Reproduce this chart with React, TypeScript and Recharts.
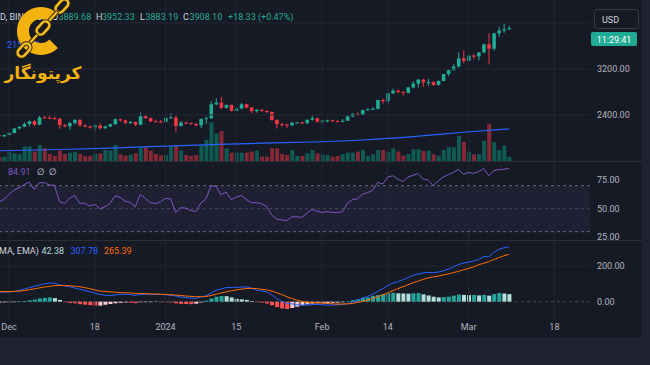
import React from 'react';
import { ComposedChart, Bar, Line, XAxis, YAxis, ReferenceLine, ReferenceArea } from 'recharts';

// days counted from 2023-12-01 (0 = Dec 1)
const dayNumber = [-2,-1,0,1,2,3,4,5,6,7,8,9,10,11,12,13,14,15,16,17,18,19,20,21,22,23,24,25,26,27,28,29,30,31,32,33,34,35,36,37,38,39,40,41,42,43,44,45,46,47,48,49,50,51,52,53,54,55,56,57,58,59,60,61,62,63,64,65,66,67,68,69,70,71,72,73,74,75,76,77,78,79,80,81,82,83,84,85,86,87,88,89,90,91,92,93,94,95,96,97,98,99];

const openPrice = [2050,2028,2052,2087,2166,2194,2243,2293,2232,2358,2350,2344,
  2336,2224,2203,2260,2315,2220,2197,2190,2218,2170,
  2200,2239,2326,2305,2262,2278,2230,2379,2345,2290,
  2285,2282,2352,2358,2210,2268,2262,2245,2222,2330,
  2345,2585,2617,2524,2576,2472,2511,2587,2530,2466,
  2490,2470,2454,2314,2242,2236,2218,2268,2272,2258,
  2317,2343,2283,2304,2308,2296,2290,2300,2375,2420,
  2405,2487,2500,2508,2660,2640,2777,2824,2802,2785,
  2880,2945,3016,2966,2971,2922,2992,3112,3179,3243,
  3385,3341,3434,3419,3489,3629,3554,3820,3868,3889.68];

const closePrice = [2028,2052,2087,2166,2194,2243,2293,2232,2358,2350,2344,2336,
  2224,2203,2260,2315,2220,2197,2190,2218,2170,2200,
  2239,2326,2305,2262,2278,2230,2379,2345,2290,2285,
  2282,2352,2358,2210,2268,2262,2245,2222,2330,2345,
  2585,2617,2524,2576,2472,2511,2587,2530,2466,2490,
  2470,2454,2314,2242,2236,2218,2268,2272,2258,2317,
  2343,2283,2304,2308,2296,2290,2300,2375,2420,2405,
  2487,2500,2508,2660,2640,2777,2824,2802,2785,2880,
  2945,3016,2966,2971,2922,2992,3112,3179,3243,3385,
  3341,3434,3419,3489,3629,3554,3820,3868,3889.68,3908.1];

const highPrice = [2070,2062,2104,2170,2204,2275,2307,2310,2383,2390,2405,2372,
  2350,2246,2282,2332,2330,2238,2215,2230,2255,2215,
  2250,2340,2335,2320,2295,2285,2445,2400,2355,2320,
  2312,2355,2430,2385,2295,2285,2270,2260,2345,2370,
  2640,2690,2717,2580,2580,2545,2610,2595,2540,2505,
  2495,2480,2460,2330,2265,2245,2275,2280,2285,2320,
  2390,2350,2315,2320,2318,2310,2330,2390,2435,2440,
  2495,2515,2535,2665,2685,2780,2860,2840,2810,2890,
  2985,3030,3030,3030,2990,3005,3115,3195,3285,3490,
  3525,3450,3460,3495,3640,3822,3830,3935,3995,3952.33];

const lowPrice = [2015,2020,2046,2080,2146,2188,2201,2208,2222,2340,2330,2320,
  2160,2185,2145,2235,2198,2190,2166,2125,2150,2155,
  2190,2232,2280,2240,2245,2210,2222,2330,2275,2270,
  2265,2265,2345,2100,2200,2230,2230,2205,2170,2245,
  2330,2570,2500,2510,2460,2460,2505,2515,2430,2440,
  2455,2430,2300,2165,2195,2170,2205,2250,2240,2240,
  2300,2270,2245,2275,2280,2275,2275,2295,2360,2390,
  2400,2470,2490,2495,2600,2600,2760,2770,2740,2775,
  2865,2880,2890,2905,2905,2910,2985,3075,3170,3225,
  3300,3330,3370,3350,3470,3280,3520,3760,3830,3883.19];

// volume, thousands
const volume = [40,44,94,77,70,144,144,94,160,127,70,50,
  104,70,84,94,70,50,50,70,77,110,
  104,160,67,54,64,77,137,137,104,70,
  57,60,144,150,104,60,50,60,160,210,
  387,277,300,127,84,84,84,84,94,104,
  44,44,127,127,70,60,110,50,50,77,
  110,77,65,60,43,50,67,84,84,94,
  110,50,67,110,110,94,127,94,54,70,
  118,118,101,104,67,54,110,138,138,251,
  191,94,67,70,201,371,188,110,154,41];

// moving average (price) read at a few days
const maDays = [-2,10,20,31,40,50,60,70,80,90,99];
const maValues = [1778,1800,1825,1860,1885,1910,1930,1965,2025,2100,2157];

const rsi = [56,58,62.5,66.2,68.2,71,73.2,66.8,72.6,72.6,70.6,70.5,
  56,54.6,59,61.5,54.8,54.6,52.4,53.8,50,51.8,
  54.6,61,59.9,56.5,55.5,51.7,62.5,59,55.2,54.5,
  56,59,58.5,46.8,50.9,50.5,48.5,47.5,55,58.5,
  69.8,69.5,62,64.5,57.8,60,61.5,58,55.2,55.3,
  54.4,52,44.5,41,40.3,39.6,43,43,42.5,46,
  49.4,47.8,46.8,47.4,46.8,46.8,47.2,54.6,58,58.5,
  62.5,64,65.8,72.9,71.5,77.5,78.7,75.6,73.5,77.5,
  79,80.6,75.8,75,70,74.2,77.5,79.7,81.5,84.2,
  80,81.6,80.7,82.2,85,78.7,83,84,84.3,84.91];

const macdLine = [53,54,55,57,62,70,79,86,93,100,104,105,
  95,89,84,77,69,63,56,48,41,37,
  34,38,41,41,41,35,40,42,41,40,
  41,39,36,32,27,23,20,19,26,33,
  48,64,72,79,80,80,82,83,75,66,
  60,56,38,18,3,-8,-12,-17,-19,-19,
  -17,-15,-17,-19,-19,-18,-15,-12,-3,9,
  20,29,42,57,73,90,104,111,123,135,
  148,155,161,164,163,166,173,182,195,208,
  216,221,228,236,252,252,277,293,302,307.78];

const signalLine = [57,57,57,58,59,62,67,72,77,82,86,90,
  91,90,89,87,84,79,73,66,60,57,
  55,53,51,50,49,47,46,45,44,43,
  42,41,39,37,35,32,30,28,28,29,
  34,42,49,55,61,66,70,74,75,73,
  70,66,60,50,40,28,18,9,2,-2,
  -5,-6,-8,-10,-12,-13,-13,-12,-10,-4,
  2,9,18,27,38,50,62,73,84,95,
  106,115,125,133,139,144,150,156,163,170,
  179,187,195,207,215,224,236,247,257,265.39];

const macdHist = [-5,-4,-3,-2,1,4,8,12,18,21,24,20,
  10,-2,-7,-9,-14,-17,-19,-22,-22,-17,
  -13,-9,-6,-4,-6,-8,-3,-2,-1,1,
  -1,-2,-4,-9,-12,-13,-14,-11,-4,6,
  18,28,32,31,24,16,13,10,4,-2,
  -5,-10,-20,-30,-38,-41,-35,-28,-20,-15,
  -11,-9,-8,-8,-6,-5,-3,1,9,13,
  22,24,33,37,43,47,50,47,46,45,
  47,48,41,35,28,24,26,28,34,40,
  38,37,37.5,35,38,34,43,49,46,42.38];

const tickDays = [0,17,31,45,62,75,91,108];
const tickLabels = ['Dec','18','2024','15','Feb','14','Mar','18'];
const priceTicks = [2400,3200];
const priceGrid = [2400,3200,4000];
const rsiTicks = [25,50,75];
const macdTicks = [0,200];
const changeText = '+18.33 (+0.47%)';
const countdownText = '11:29:41';

const rows = dayNumber.map((d, i) => {
  const m = maDays.indexOf(d);
  return {
    i, d,
    open: openPrice[i], high: highPrice[i], low: lowPrice[i], close: closePrice[i],
    volume: volume[i],
    ma: m >= 0 ? maValues[m] : null,
    rsi: rsi[i], macd: macdLine[i], signal: signalLine[i], hist: macdHist[i],
  };
});

const BG = '#161a25';
const FRAME = '#1f2230';
const GRID = '#222633';
const SEP = '#2a2e39';
const AXIS_TEXT = '#b2b5be';
const LEGEND = '#d1d4dc';
const UP = '#22ab94';
const DOWN = '#f23645';
const X_DOMAIN: [number, number] = [-1.782, 115.05];
const CHART_W = 642;
const AXIS_W = 52;
const FONT = 'Roboto, "DejaVu Sans", sans-serif';
const M = { top: 0, right: 0, bottom: 0, left: 0 };

const CandleShape = (p: any) => {
  const r = p.payload;
  let { x, y, width, height } = p;
  if (x == null || y == null) return null;
  if (height < 0) { y += height; height = -height; }
  const range = r.high - r.low;
  const k = range > 0 ? height / range : 0;
  const yO = y + (r.high - r.open) * k;
  const yC = y + (r.high - r.close) * k;
  const top = Math.min(yO, yC);
  const h = Math.max(1, Math.abs(yO - yC));
  const c = r.close >= r.open ? UP : DOWN;
  const cx = x + width / 2;
  return (
    <g>
      <line x1={cx} x2={cx} y1={y} y2={y + height} stroke={c} strokeWidth={1} />
      <rect x={x} y={top} width={width} height={h} fill={c} />
    </g>
  );
};

const VolumeShape = (p: any) => {
  let { x, y, width, height } = p;
  if (x == null || y == null) return null;
  if (height < 0) { y += height; height = -height; }
  const r = p.payload;
  const c = r.close >= r.open ? 'rgba(8,153,129,0.5)' : 'rgba(242,54,69,0.5)';
  return <rect x={x} y={y} width={width} height={height} fill={c} />;
};

const HistShape = (p: any) => {
  let { x, y, width, height } = p;
  if (x == null || y == null) return null;
  if (height < 0) { y += height; height = -height; }
  const i = p.payload.i;
  const v = macdHist[i];
  const prev = i > 0 ? macdHist[i - 1] : v;
  let c;
  if (v >= 0) c = v >= prev ? '#26a69a' : '#b2dfdb';
  else c = v < prev ? '#ff5252' : '#ffcdd2';
  return <rect x={x} y={y} width={width} height={Math.max(height, 0.5)} fill={c} />;
};

const ValueTick = (p: any) => (
  <text x={p.x} y={p.y} fill={AXIS_TEXT} fontSize={9} textAnchor="start" dominantBaseline="central" fontFamily={FONT}>
    {Number(p.payload.value).toFixed(2)}
  </text>
);

const TimeTick = (p: any) => {
  const idx = tickDays.indexOf(p.payload.value);
  return (
    <text x={p.x} y={p.y + 7} fill={AXIS_TEXT} fontSize={9} textAnchor="middle" dominantBaseline="central" fontFamily={FONT}>
      {tickLabels[idx]}
    </text>
  );
};

const vGrid = (xId?: string, yId?: string) =>
  tickDays.map((d) => (
    <ReferenceLine key={'vg' + d} x={d} stroke={GRID} strokeWidth={1} {...(xId ? { xAxisId: xId } : {})} {...(yId ? { yAxisId: yId } : {})} />
  ));

const yAxisProps = {
  orientation: 'right' as const,
  width: AXIS_W,
  axisLine: false,
  tickLine: false,
  tickSize: 0,
  tickMargin: 7,
  tick: ValueTick,
  allowDataOverflow: true,
  interval: 0 as const,
};

const linkCenters = [[62, 6], [53, 16.5], [43, 28], [33, 39.5], [24, 50]];

export default function App() {
  const last = rows.length - 1;
  return (
    <div style={{ position: 'absolute', left: 0, top: 0, width: 650, height: 365, background: FRAME, overflow: 'hidden', fontFamily: FONT }}>
      <div style={{ position: 'absolute', left: 0, top: 0, width: CHART_W, height: 337, background: BG }} />
      <svg width={650} height={365} style={{ position: 'absolute', left: 0, top: 0 }}>
        <line x1={0} x2={CHART_W} y1={161.5} y2={161.5} stroke={SEP} />
        <line x1={0} x2={CHART_W} y1={240.5} y2={240.5} stroke={SEP} />
      </svg>

      {/* main pane */}
      <div style={{ position: 'absolute', left: 0, top: 0 }}>
        <ComposedChart width={CHART_W} height={161} data={rows} margin={M}>
          <XAxis xAxisId="p" dataKey="d" type="number" domain={X_DOMAIN} allowDataOverflow hide />
          <XAxis xAxisId="v" dataKey="d" type="number" domain={X_DOMAIN} allowDataOverflow hide />
          <YAxis yAxisId="p" {...yAxisProps} domain={[1600, 4400]} ticks={priceTicks} />
          <YAxis yAxisId="v" hide domain={[0, 1610]} allowDataOverflow />
          {vGrid('p', 'p')}
          {priceGrid.map((v) => (
            <ReferenceLine key={'hg' + v} xAxisId="p" yAxisId="p" y={v} stroke={GRID} />
          ))}
          <Bar xAxisId="v" yAxisId="v" dataKey="volume" barSize={4} shape={VolumeShape} isAnimationActive={false} />
          <Line xAxisId="p" yAxisId="p" dataKey="ma" type="monotone" stroke="#2962ff" strokeWidth={1.2} dot={false} connectNulls isAnimationActive={false} />
          <Bar xAxisId="p" yAxisId="p" dataKey={(r: any) => [r.low, r.high]} barSize={3.6} shape={CandleShape} isAnimationActive={false} />
        </ComposedChart>
      </div>

      {/* RSI pane */}
      <div style={{ position: 'absolute', left: 0, top: 162 }}>
        <ComposedChart width={CHART_W} height={78} data={rows} margin={M}>
          <XAxis dataKey="d" type="number" domain={X_DOMAIN} allowDataOverflow hide />
          <YAxis {...yAxisProps} domain={[22.8, 90.6]} ticks={rsiTicks} />
          {vGrid()}
          <ReferenceArea y1={30} y2={70} fill="#7e57c2" fillOpacity={0.1} stroke="none" />
          <ReferenceLine y={70} stroke="#787b86" strokeDasharray="3 3" strokeOpacity={0.8} />
          <ReferenceLine y={50} stroke="#787b86" strokeDasharray="3 3" strokeOpacity={0.45} />
          <ReferenceLine y={30} stroke="#787b86" strokeDasharray="3 3" strokeOpacity={0.8} />
          <Line dataKey="rsi" type="linear" stroke="#7e57c2" strokeWidth={1} dot={false} isAnimationActive={false} />
        </ComposedChart>
      </div>

      {/* MACD pane + time axis */}
      <div style={{ position: 'absolute', left: 0, top: 241 }}>
        <ComposedChart width={CHART_W} height={96} data={rows} margin={M}>
          <XAxis dataKey="d" type="number" domain={X_DOMAIN} allowDataOverflow ticks={tickDays} interval={0}
            height={17} axisLine={false} tickLine={false} tickSize={0} tickMargin={0} tick={TimeTick} />
          <YAxis {...yAxisProps} domain={[-102.5, 340]} ticks={macdTicks} />
          {vGrid()}
          <ReferenceLine y={200} stroke={GRID} />
          <ReferenceLine y={0} stroke="#787b86" strokeDasharray="3 3" strokeOpacity={0.5} />
          <Bar dataKey="hist" barSize={4} shape={HistShape} isAnimationActive={false} />
          <Line dataKey="macd" type="linear" stroke="#2962ff" strokeWidth={1} dot={false} isAnimationActive={false} />
          <Line dataKey="signal" type="linear" stroke="#ff6d00" strokeWidth={1} dot={false} isAnimationActive={false} />
        </ComposedChart>
      </div>

      {/* overlay: legends, price scale labels, logo */}
      <svg width={650} height={365} style={{ position: 'absolute', left: 0, top: 0 }} fontFamily={FONT}>
        <text y={17} fontSize={9} dominantBaseline="central">
          <tspan x={0} fill={LEGEND}>D, BINANCE</tspan>
          <tspan x={52} fill={LEGEND}>O</tspan>
          <tspan x={58.5} fill={UP}>{openPrice[last].toFixed(2)}</tspan>
          <tspan x={96} fill={LEGEND}>H</tspan>
          <tspan x={102} fill={UP}>{highPrice[last].toFixed(2)}</tspan>
          <tspan x={140} fill={LEGEND}>L</tspan>
          <tspan x={145.5} fill={UP}>{lowPrice[last].toFixed(2)}</tspan>
          <tspan x={183} fill={LEGEND}>C</tspan>
          <tspan x={189.5} fill={UP}>{closePrice[last].toFixed(2)}</tspan>
          <tspan x={228} fill={UP}>{changeText}</tspan>
        </text>
        <text x={7} y={45} fontSize={9} dominantBaseline="central" fill="#2962ff">
          {maValues[maValues.length - 1].toFixed(2)}
        </text>
        <text y={172} fontSize={9} dominantBaseline="central">
          <tspan x={8} fill="#7e57c2">{rsi[last].toFixed(2)}</tspan>
          <tspan x={37} fill={LEGEND}>∅</tspan>
          <tspan x={49} fill={LEGEND}>∅</tspan>
        </text>
        <text y={250.5} fontSize={9} dominantBaseline="central">
          <tspan x={-1} fill={LEGEND}>MA, EMA)</tspan>
          <tspan x={41.5} fill="#b2dfdb">{macdHist[last].toFixed(2)}</tspan>
          <tspan x={70.5} fill="#2962ff">{macdLine[last].toFixed(2)}</tspan>
          <tspan x={104} fill="#ff6d00">{signalLine[last].toFixed(2)}</tspan>
        </text>

        {/* price scale widgets */}
        <rect x={594.5} y={9.5} width={44} height={19} rx={3} fill={BG} stroke="#363a45" />
        <text x={602} y={19.5} fontSize={9} fill={LEGEND} dominantBaseline="central">USD</text>
        <rect x={591} y={32} width={46} height={14} rx={2} fill={UP} />
        <text x={614} y={39.5} fontSize={9} fill="#ffffff" textAnchor="middle" dominantBaseline="central">{countdownText}</text>

        {/* logo */}
        <path d="M 53.7 18.3 A 18 18 0 1 0 53.7 43.7" fill="none" stroke="#f4b20f" strokeWidth={12} />
        {linkCenters.map(([cx, cy], k) => (
          <g key={k} transform={`translate(${cx} ${cy}) rotate(132)`}>
            {k % 2 === 0 ? (
              <g>
                <rect x={-7.5} y={-4} width={15} height={8} rx={4} fill="none" stroke="#3a2a06" strokeWidth={4.5} />
                <rect x={-7.5} y={-4} width={15} height={8} rx={4} fill="none" stroke="#f6c026" strokeWidth={2.5} />
              </g>
            ) : (
              <rect x={-7} y={-1.6} width={14} height={3.2} rx={1.6} fill="#f6c026" stroke="#3a2a06" strokeWidth={1} />
            )}
          </g>
        ))}
        <text x={43} y={79} fontSize={17} fontWeight="bold" fill="#f4b20f" textAnchor="middle" fontFamily='"DejaVu Sans", sans-serif'>کرپتونگار</text>
      </svg>
    </div>
  );
}
